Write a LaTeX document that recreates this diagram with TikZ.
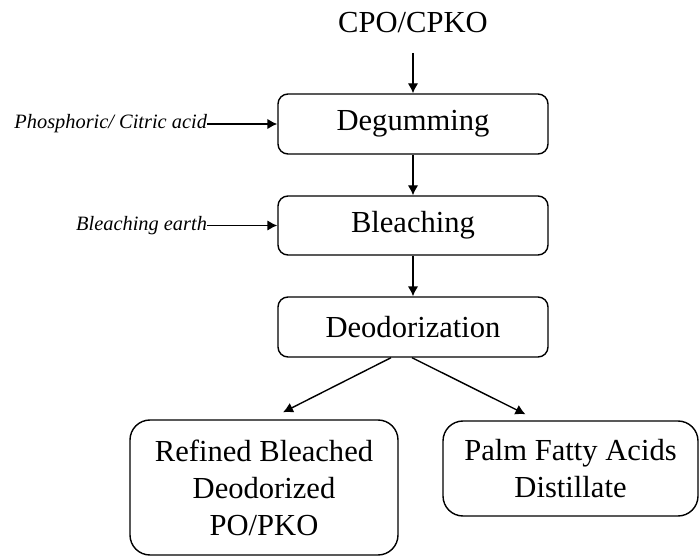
\documentclass[tikz,border=0pt]{standalone}
\usepackage{fontspec}
\setmainfont{Liberation Serif}
\usepackage{tikz}
\usetikzlibrary{calc}
\usetikzlibrary{positioning}
\usetikzlibrary{arrows.meta}

\begin{document}
\begin{tikzpicture}[
    stepbox/.style={draw, line width=0.8pt, rounded corners=0.2cm, minimum width=5.4cm, minimum height=1.2cm, font=\fontsize{17.4}{21}\selectfont},
    endbox/.style={draw, line width=0.8pt, rounded corners=0.4cm, align=center, font=\fontsize{17.4}{21}\selectfont},
    feed/.style={inner sep=0pt, font=\fontsize{11.6}{14}\selectfont\itshape},
    arr/.style={line width=0.8pt, -{Latex[length=2mm,width=2.1mm]}}
]
\useasboundingbox (0,0) rectangle (14,-11.12);

\node[anchor=south, inner ysep=0.4cm, font=\fontsize{17.4}{21}\selectfont] (cpo) at (8.26,-1.06) {CPO/CPKO};

\node[stepbox] (degum) at (8.26,-2.48) {Degumming};
\node[stepbox, minimum height=1.18cm] (bleach) at (8.26,-4.51) {Bleaching};
\node[stepbox] (deodor) at (8.26,-6.54) {Deodorization};

\node[endbox, minimum width=5.36cm, minimum height=2.7cm] (rbd) at (5.28,-9.75) {Refined Bleached\\Deodorized\\PO/PKO};
\node[endbox, minimum width=5.1cm, minimum height=1.9cm] (pfad) at (11.41,-9.37) {Palm Fatty Acids\\Distillate};

\node[feed, left=1.4cm of degum] (acid) {Phosphoric/ Citric acid};
\node[feed, left=1.4cm of bleach] (earth) {Bleaching earth};

\draw[arr] (cpo.south) -- (degum.north);
\draw[arr] (degum.south) -- (bleach.north);
\draw[arr] (bleach.south) -- (deodor.north);
\draw[arr] (acid.east) -- (degum.west);
\draw[arr] (earth.east) -- (bleach.west);

\draw[arr] ($(deodor.south)+(-0.44,0)$) -- ($(rbd.north)+(0.38,0.14)$);
\draw[arr] ($(deodor.south)+(-0.02,0)$) -- ($(pfad.north)+(-0.9,0.12)$);

\end{tikzpicture}
\end{document}
